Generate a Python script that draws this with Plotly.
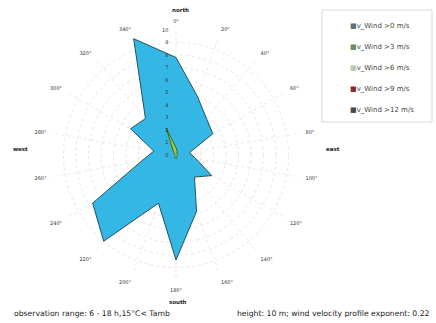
import plotly.graph_objects as go

directions = [0, 20, 40, 60, 80, 100, 120, 140, 160, 180, 200, 220, 240, 260, 280, 300, 320, 340]
dir_labels = [f"{d}°" for d in directions]

v_gt0 = [7.8, 5.0, 3.8, 3.4, 1.1, 1.6, 3.3, 2.3, 4.8, 8.4, 4.1, 9.0, 7.7, 2.8, 1.8, 4.2, 3.8, 9.9]
v_gt3 = [0.6, 0.3, 0.1, 0.1, 0.1, 0.1, 0.1, 0.1, 0.2, 0.3, 0.2, 0.1, 0.1, 0.1, 0.1, 0.1, 0.3, 2.3]
v_gt6 = [0.1, 0.0, 0.0, 0.0, 0.0, 0.0, 0.0, 0.0, 0.0, 0.1, 0.0, 0.0, 0.0, 0.0, 0.0, 0.0, 0.0, 0.2]
v_gt9 = [0.0] * 18
v_gt12 = [0.0] * 18

series_names = ["v_Wind >0 m/s", "v_Wind >3 m/s", "v_Wind >6 m/s", "v_Wind >9 m/s", "v_Wind >12 m/s"]
series_values = [v_gt0, v_gt3, v_gt6, v_gt9, v_gt12]
fill_colors = ["#35b7e6", "#a8c83a", "#eef3e6", "#7a1f1f", "#555555"]
line_colors = ["#24525c", "#2f6b22", "#9aa88a", "#5a1010", "#333333"]
swatch_colors = ["#5c6f78", "#6f8a58", "#b9c9a8", "#8a2a2a", "#4a4a4a"]

radial_ticks = [0, 1, 2, 3, 4, 5, 6, 7, 8, 9, 10]
radial_labels = [f"{v}\u00a0\u00a0\u00a0\u00a0" for v in radial_ticks]

fig = go.Figure()
for i, (name, vals) in enumerate(zip(series_names, series_values)):
    fig.add_trace(go.Scatterpolar(
        r=vals + [vals[0]],
        theta=directions + [directions[0]],
        mode="lines",
        fill="toself",
        fillcolor=fill_colors[i],
        line=dict(color=line_colors[i], width=1),
        name=name,
        showlegend=False,
    ))
# legend entries: swatch drawn as a coloured square glyph in the label
for i, name in enumerate(series_names):
    fig.add_trace(go.Scatterpolar(
        r=[None], theta=[None], mode="markers",
        name=f"<span style='color:{swatch_colors[i]}'>■</span>{name}",
        marker=dict(symbol="square", size=1, color="rgba(0,0,0,0)",
                    line=dict(width=0, color="rgba(0,0,0,0)")),
        legendgroup=f"g{i}", showlegend=True,
    ))

W, H = 436, 323
cx, cy, R = 176, 155, 125
FONT = "DejaVu Sans, Liberation Sans, sans-serif"

fig.update_layout(
    width=W, height=H,
    margin=dict(l=0, r=0, t=0, b=0),
    paper_bgcolor="white",
    plot_bgcolor="white",
    font=dict(family=FONT, size=5, color="#222"),
    polar=dict(
        domain=dict(x=[(cx - R) / W, (cx + R) / W], y=[(H - cy - R) / H, (H - cy + R) / H]),
        bgcolor="white",
        angularaxis=dict(
            direction="clockwise", rotation=90,
            tickmode="array", tickvals=directions, ticktext=dir_labels,
            tickfont=dict(size=5, color="#333"),
            showline=False, ticks="outside", ticklen=5, tickcolor="rgba(0,0,0,0)",
            gridcolor="#f1e6e6", griddash="dot", gridwidth=1,
        ),
        radialaxis=dict(
            range=[0, 10], tickmode="array", tickvals=radial_ticks, ticktext=radial_labels,
            angle=90, tickangle=90, side="counterclockwise",
            tickfont=dict(size=5, color="#333"),
            showline=False, ticks="",
            gridcolor="#f0e2e2", griddash="dot", gridwidth=1,
        ),
    ),
    showlegend=True,
    legend=dict(
        x=310 / W, y=1 - 11 / H, xanchor="left", yanchor="top",
        borderwidth=0, bgcolor="rgba(0,0,0,0)",
        font=dict(family=FONT, size=7, color="#444"),
        tracegroupgap=2, itemwidth=30,
    ),
    shapes=[dict(type="rect", xref="paper", yref="paper",
                 x0=322 / W, x1=432 / W, y0=1 - 122 / H, y1=1 - 10 / H,
                 line=dict(color="#d8d8d8", width=1), fillcolor="rgba(0,0,0,0)")],
)

cardinals = [("north", 180, 10), ("east", 333, 149), ("south", 178, 302), ("west", 20, 149)]
for txt, x, y in cardinals:
    fig.add_annotation(x=x / W, y=1 - y / H, xref="paper", yref="paper", text=f"<b>{txt}</b>",
                       xanchor="center", yanchor="middle",
                       showarrow=False, font=dict(family=FONT, size=5.5, color="#222"))

fig.add_annotation(x=12 / W, y=1 - 313 / H, xref="paper", yref="paper", xanchor="left", yanchor="middle",
                   text="observation range: 6 - 18 h,15°C< Tamb", showarrow=False,
                   font=dict(family=FONT, size=7.7, color="#222"))
fig.add_annotation(x=432 / W, y=1 - 313 / H, xref="paper", yref="paper", xanchor="right", yanchor="middle",
                   text="height: 10 m; wind velocity profile exponent: 0.22", showarrow=False,
                   font=dict(family=FONT, size=7.7, color="#222"))

fig.write_html("out.html", config={"displayModeBar": False},
               post_script="document.body.style.margin='0';document.body.style.overflow='hidden';")
